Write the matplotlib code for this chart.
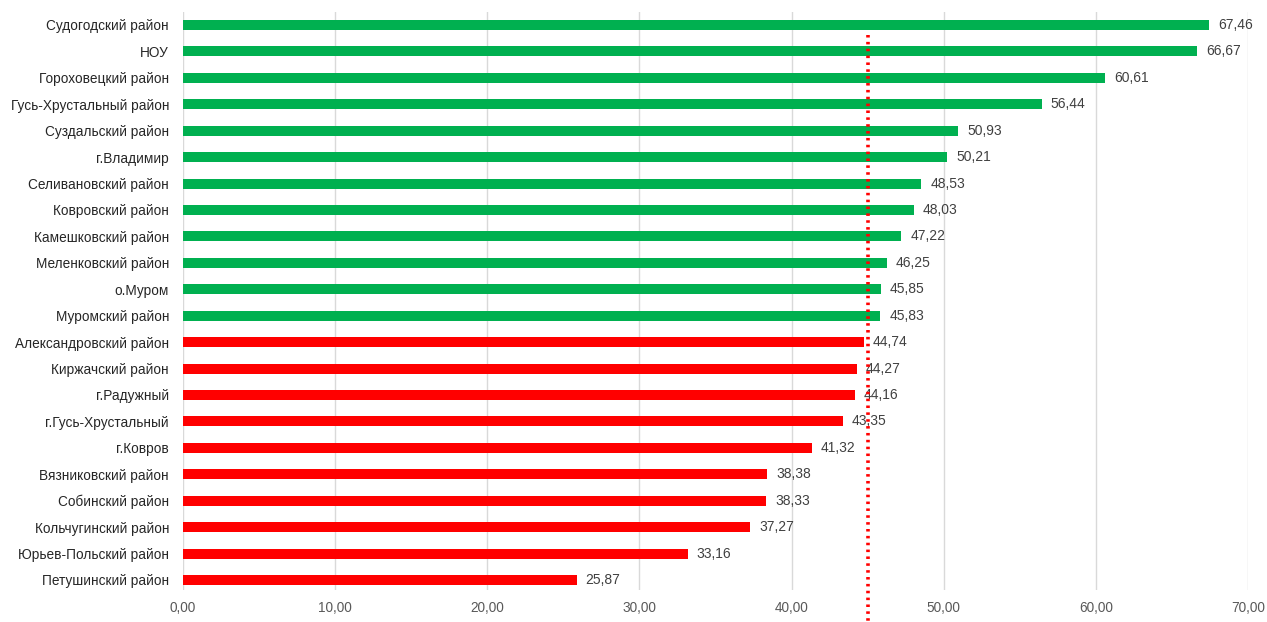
import numpy as np
import matplotlib.pyplot as plt

plt.rcParams['font.family'] = ['Liberation Sans', 'DejaVu Sans']

# районы сверху вниз
districts = ['Судогодский район', 'НОУ', 'Гороховецкий район', 'Гусь-Хрустальный район',
             'Суздальский район', 'г.Владимир', 'Селивановский район', 'Ковровский район',
             'Камешковский район', 'Меленковский район', 'о.Муром', 'Муромский район',
             'Александровский район', 'Киржачский район', 'г.Радужный', 'г.Гусь-Хрустальный',
             'г.Ковров', 'Вязниковский район', 'Собинский район', 'Кольчугинский район',
             'Юрьев-Польский район', 'Петушинский район']
scores = [67.46, 66.67, 60.61, 56.44, 50.93, 50.21, 48.53, 48.03, 47.22, 46.25, 45.85, 45.83,
          44.74, 44.27, 44.16, 43.35, 41.32, 38.38, 38.33, 37.27, 33.16, 25.87]
avg_score = 45.05
x_ticks = [0, 10, 20, 30, 40, 50, 60, 70]

fig = plt.figure(figsize=(12.67, 6.22), dpi=100)
ax = fig.add_axes([183 / 1267, 32 / 622, 1065 / 1267, 578 / 622])

y = np.arange(len(districts))
colors = ['#00B050' if s > avg_score else '#FF0000' for s in scores]
ax.barh(y, scores, height=0.38, color=colors, zorder=2)

for yi, s in zip(y, scores):
    ax.text(s + 0.6, yi, f'{s:.2f}'.replace('.', ','), va='center', ha='left',
            fontsize=10, color='#404040', zorder=3)

# средний балл — пунктир
ax.plot([avg_score, avg_score], [0.38, 22.6], color='#FF0000', lw=2.6,
        linestyle=(0, (0.7, 1.2)), clip_on=False, zorder=4)

ax.set_ylim(len(districts) - 0.62, -0.49)
ax.set_xlim(0, 70)
ax.set_yticks(y)
ax.set_yticklabels(districts, fontsize=9.8, color='#262626')
ax.set_xticks(x_ticks)
ax.set_xticklabels([f'{t:.2f}'.replace('.', ',') for t in x_ticks], fontsize=9.8, color='#595959')
ax.tick_params(axis='both', length=0, pad=8)
ax.tick_params(axis='y', pad=10)
ax.grid(axis='x', color='#D9D9D9', lw=1, zorder=0)
for sp in ax.spines.values():
    sp.set_visible(False)

fig.savefig('out.png', dpi=100)
